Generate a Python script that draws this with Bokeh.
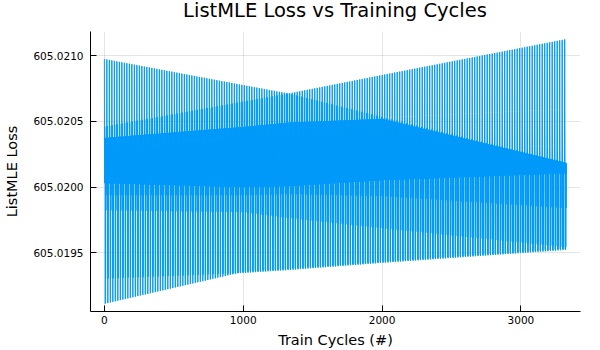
import numpy as np
from bokeh.plotting import figure
from bokeh.layouts import column
from bokeh.models import FixedTicker, PrintfTickFormatter, Range1d, ColumnDataSource, Div
from bokeh.embed import file_html
from bokeh.resources import INLINE

# --- data -----------------------------------------------------------------
# The loss cycles through a fixed set of batch levels every epoch; each level
# drifts over training.  Values of each level at a few train-cycle knots:
X_KNOTS = [0, 1000, 1340, 2000, 3330]

LEVEL_A = [605.020975, 605.020776, 605.020710, 605.020534, 605.020185]
LEVEL_B = [605.020460, 605.020651, 605.020715, 605.020853, 605.021127]
LEVEL_H = [605.020376, 605.020462, 605.020492, 605.020527, 605.020595]
LEVEL_I = [605.020206, 605.020244, 605.020267, 605.020282, 605.020313]
LEVEL_M1 = [605.020374, 605.020458, 605.020492, 605.020519, 605.020183]
LEVEL_M2 = [605.020282, 605.020359, 605.020382, 605.020397, 605.020168]
LEVEL_M3 = [605.020191, 605.020244, 605.020267, 605.020282, 605.020153]
LEVEL_M4 = [605.020114, 605.020145, 605.020160, 605.020191, 605.020137]
LEVEL_M5 = [605.020069, 605.020053, 605.020069, 605.020114, 605.020122]
LEVEL_G = [605.020030, 605.020000, 605.020008, 605.020053, 605.020105]
LEVEL_F = [605.019939, 605.019939, 605.019947, 605.019931, 605.019840]
LEVEL_E = [605.019824, 605.019809, 605.019763, 605.019687, 605.019542]
LEVEL_D = [605.019303, 605.019347, 605.019370, 605.019424, 605.019523]
LEVEL_C = [605.019112, 605.019355, 605.019378, 605.019431, 605.019531]

CYCLE_ORDER = ["A", "G", "H", "B", "H", "I", "M5", "C", "M1",
               "D", "M2", "E", "M3", "F", "M1", "G", "M2", "M4"]
N_POINTS = 3330

X_TICKS = [0, 1000, 2000, 3000]
Y_TICKS = [605.0195, 605.0200, 605.0205, 605.0210]

TITLE = "ListMLE Loss vs Training Cycles"
X_LABEL = "Train Cycles (#)"
Y_LABEL = "ListMLE Loss"

# --- build series ------------------------------------------------------------
levels = {"A": LEVEL_A, "B": LEVEL_B, "H": LEVEL_H, "I": LEVEL_I,
          "M1": LEVEL_M1, "M2": LEVEL_M2, "M3": LEVEL_M3, "M4": LEVEL_M4,
          "M5": LEVEL_M5, "G": LEVEL_G, "F": LEVEL_F, "E": LEVEL_E,
          "D": LEVEL_D, "C": LEVEL_C}
K = len(CYCLE_ORDER)
xs = np.arange(N_POINTS, dtype=float)
ys = np.empty(N_POINTS)
for j, name in enumerate(CYCLE_ORDER):
    ys[j::K] = np.interp(xs[j::K], X_KNOTS, levels[name])

src = ColumnDataSource(dict(x=xs, y=ys))

xmin, xmax = xs.min(), xs.max()
ymin, ymax = ys.min(), ys.max()
xpad = 0.03 * (xmax - xmin)
ypad = 0.03 * (ymax - ymin)
x_lo, x_hi = xmin - xpad, xmax + xpad
y_lo, y_hi = ymin - ypad, ymax + ypad

FONT = "DejaVu Sans"

title_div = Div(
    text=(f'<div style="width:490px;margin-left:90px;padding-top:1px;'
          f'text-align:center;font-family:\'{FONT}\';font-size:19.5px;'
          f'line-height:19.5px;color:black;white-space:nowrap;">{TITLE}</div>'),
    width=600, height=31, margin=0)

p = figure(width=600, height=319, output_backend="svg", toolbar_location=None,
           x_range=Range1d(x_lo, x_hi), y_range=Range1d(y_lo, y_hi),
           min_border_left=90, min_border_right=20,
           min_border_top=0, min_border_bottom=39, margin=0)

p.line("x", "y", source=src, line_color="#009AF9", line_width=1)

p.xaxis.ticker = FixedTicker(ticks=X_TICKS)
p.yaxis.ticker = FixedTicker(ticks=Y_TICKS)
p.yaxis.formatter = PrintfTickFormatter(format="%.4f")

for ax in (p.xaxis[0], p.yaxis[0]):
    ax.axis_line_color = "black"
    ax.axis_line_width = 1
    ax.major_tick_line_color = "black"
    ax.major_tick_in = 6
    ax.major_tick_out = 0
    ax.minor_tick_line_color = None
    ax.major_label_text_font = FONT
    ax.major_label_text_font_size = "10.5px"
    ax.major_label_text_color = "black"
    ax.axis_label_text_font = FONT
    ax.axis_label_text_font_size = "14.5px"
    ax.axis_label_text_font_style = "normal"
    ax.axis_label_text_color = "black"

p.xaxis.axis_label = X_LABEL
p.yaxis.axis_label = Y_LABEL
p.xaxis.major_label_standoff = 4
p.yaxis.major_label_standoff = 7
p.xaxis.axis_label_standoff = 5
p.yaxis.axis_label_standoff = 10

p.grid.grid_line_color = "black"
p.grid.grid_line_alpha = 0.1
p.grid.grid_line_width = 1
p.outline_line_color = None
p.background_fill_color = "white"
p.border_fill_color = "white"

layout = column(title_div, p, spacing=0, margin=0)

open("out.html", "w").write(file_html(layout, INLINE))
